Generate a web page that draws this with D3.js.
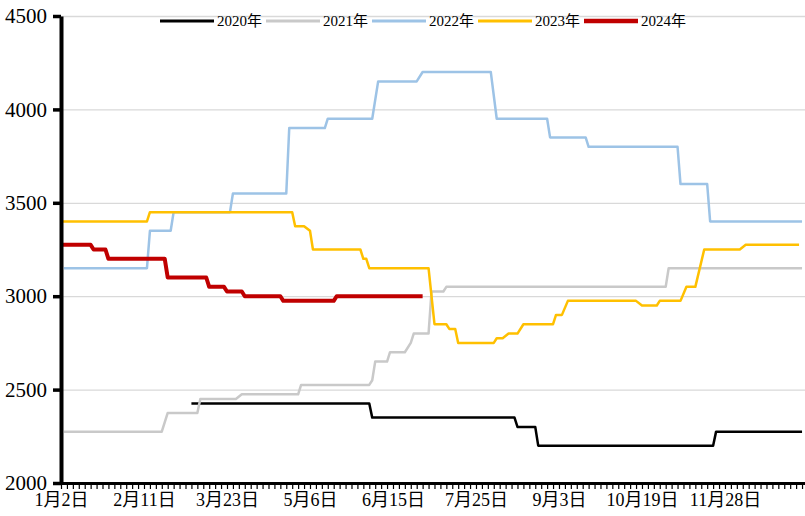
<!DOCTYPE html>
<html>
<head>
<meta charset="utf-8">
<script src="https://cdn.jsdelivr.net/npm/d3@7"></script>
<style>
	body { margin: 0; background: #fff; }
	svg text { font-family: "Liberation Serif", "Noto Sans CJK SC", serif; fill: #000; }
</style>
</head>
<body>
<svg id="chart" width="805" height="516"></svg>
<script>
// categories: trading days of the year, a label every 28 days
const dayCount = 252;
const labelStep = 28;
const tickLabels = ['1月2日', '2月11日', '3月23日', '5月6日', '6月15日', '7月25日', '9月3日', '10月19日', '11月28日'];
const yTicks = [2000, 2500, 3000, 3500, 4000, 4500];

// [day index, price]
const s2020 = [[44,2425],[104,2425],[105,2350],[153,2350],[154,2300],[160,2300],[161,2200],[220,2200],[221,2275],[250,2275]];
const s2021 = [[1,2275],[34,2275],[36,2375],[46,2375],[47,2450],[59,2450],[61,2475],[80,2475],[81,2525],[104,2525],[105,2550],[106,2650],
	[110,2650],[111,2700],[116,2700],[118,2750],[119,2800],[124,2800],[125,3025],[129,3025],[130,3050],[204,3050],[205,3150],[250,3150]];
const s2022 = [[1,3150],[29,3150],[30,3350],[37,3350],[38,3450],[57,3450],[58,3550],[76,3550],[77,3900],[89,3900],[90,3950],[105,3950],
	[107,4150],[120,4150],[122,4200],[145,4200],[147,3950],[164,3950],[165,3850],[177,3850],[178,3800],[208,3800],[209,3600],[218,3600],[219,3400],[250,3400]];
const s2023 = [[0,3400],[29,3400],[30,3450],[78,3450],[79,3375],[82,3375],[84,3350],[85,3250],[101,3250],[102,3200],[103,3200],[104,3150],
	[124,3150],[126,2850],[130,2850],[131,2825],[133,2825],[134,2750],[146,2750],[147,2775],[149,2775],[151,2800],[154,2800],[156,2850],
	[166,2850],[167,2900],[169,2900],[171,2975],[194,2975],[196,2950],[201,2950],[202,2975],[209,2975],[211,3050],[214,3050],[217,3250],
	[229,3250],[231,3275],[249,3275]];
const s2024 = [[0,3275],[10,3275],[11,3250],[15,3250],[16,3200],[35,3200],[36,3100],[49,3100],[50,3050],[55,3050],[56,3025],[61,3025],
	[62,3000],[74,3000],[75,2975],[92,2975],[93,3000],[122,3000]];

const series = [
	{ name: '2020年', data: s2020, color: '#000000', width: 2.5 },
	{ name: '2021年', data: s2021, color: '#c9c9c9', width: 2.5 },
	{ name: '2022年', data: s2022, color: '#9dc3e6', width: 2.5 },
	{ name: '2023年', data: s2023, color: '#ffc000', width: 2.5 },
	{ name: '2024年', data: s2024, color: '#c00000', width: 4 },
];

const svg = d3.select('#chart');
const m = { left: 61, right: 805, top: 16, bottom: 483 };

const x = d3.scaleLinear().domain([0, dayCount - 1]).range([m.left, m.right]);
const y = d3.scaleLinear().domain([2000, 4500]).range([m.bottom, m.top]);

// gridlines
svg.append('g')
	.attr('transform', `translate(${m.left},0)`)
	.call(d3.axisLeft(y).tickValues(yTicks.slice(1)).tickSize(-(m.right - m.left)).tickFormat(''))
	.call(g => g.select('.domain').remove())
	.call(g => g.selectAll('line').attr('stroke', '#d9d9d9').attr('stroke-width', 1.3));

// lines
const line = d3.line()
	.x(d => x(d[0]))
	.y(d => y(d[1]));

svg.append('g').selectAll('path')
	.data(series)
	.join('path')
	.attr('d', d => line(d.data))
	.attr('fill', 'none')
	.attr('stroke', d => d.color)
	.attr('stroke-width', d => d.width)
	.attr('stroke-linejoin', 'round');

// x axis: minor ticks + labels
svg.append('g')
	.attr('transform', `translate(0,${m.bottom})`)
	.call(d3.axisBottom(x).tickValues(d3.range(0, dayCount, 2)).tickSize(6).tickSizeOuter(0).tickFormat(''))
	.call(g => g.select('.domain').attr('stroke', '#000').attr('stroke-width', 3))
	.call(g => g.selectAll('.tick line').attr('stroke', '#000').attr('stroke-width', 1.2));

svg.append('g')
	.attr('transform', `translate(0,${m.bottom})`)
	.call(d3.axisBottom(x).tickValues(d3.range(0, dayCount, labelStep)).tickSize(0).tickPadding(10)
		.tickFormat((d, i) => tickLabels[i]))
	.call(g => g.select('.domain').remove())
	.call(g => g.selectAll('text').attr('font-size', 18).attr('font-family', '"Liberation Serif", "Noto Sans CJK SC", serif'));

// y axis
svg.append('g')
	.attr('transform', `translate(${m.left},0)`)
	.call(d3.axisLeft(y).tickValues(yTicks).tickSize(8).tickSizeOuter(0).tickPadding(6).tickFormat(d3.format('d')))
	.call(g => g.select('.domain').attr('stroke', '#000').attr('stroke-width', 4))
	.call(g => g.selectAll('.tick line').attr('stroke', '#000').attr('stroke-width', 3.5))
	.call(g => g.selectAll('text').attr('font-size', 21).attr('font-family', '"Liberation Serif", serif'));

// legend
const legendX = [160, 266, 372, 478, 584];
const legend = svg.append('g').selectAll('g')
	.data(series)
	.join('g')
	.attr('transform', (d, i) => `translate(${legendX[i]},21)`);
legend.append('line')
	.attr('x1', 0).attr('x2', 54)
	.attr('stroke', d => d.color)
	.attr('stroke-width', d => d.width + 0.5);
legend.append('text')
	.attr('x', 57).attr('dy', '0.35em')
	.attr('font-size', 15)
	.text(d => d.name);
</script>
</body>
</html>
